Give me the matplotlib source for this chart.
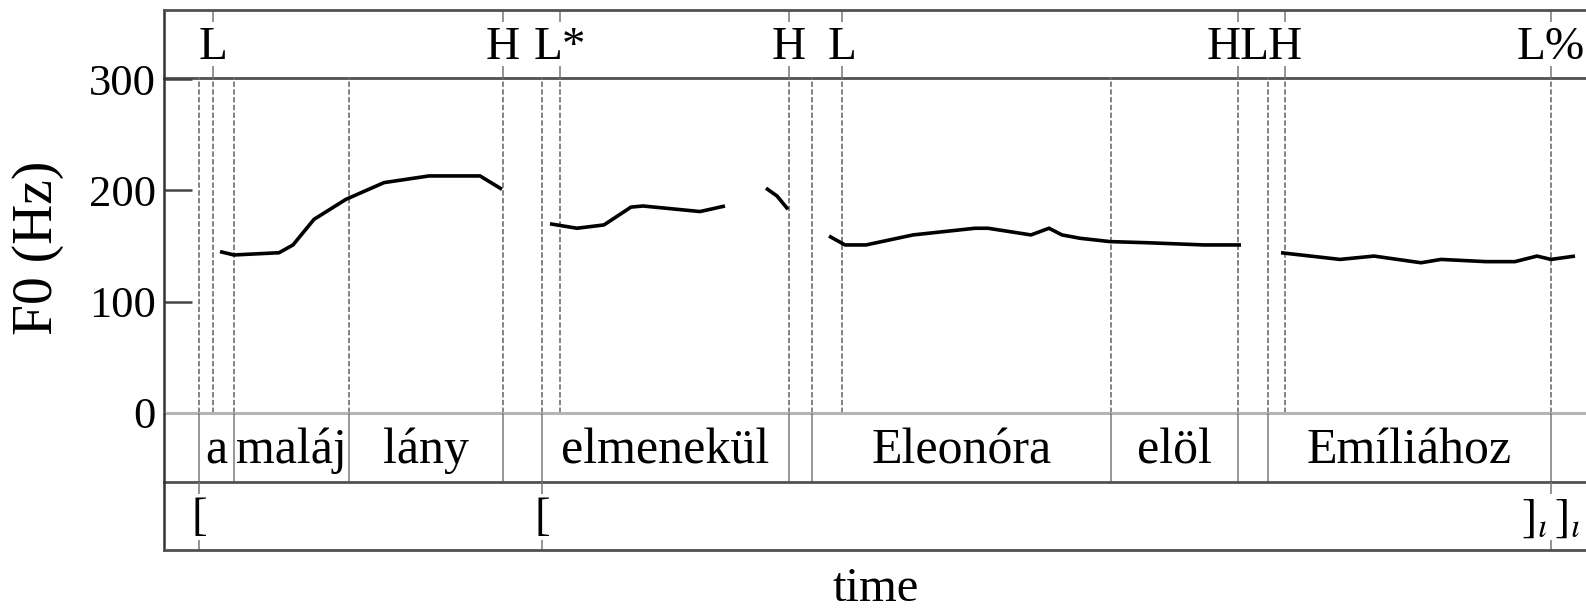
import matplotlib
matplotlib.use("Agg")
import matplotlib.pyplot as plt

plt.rcParams['font.family'] = ['Liberation Serif', 'DejaVu Serif']
plt.rcParams['mathtext.fontset'] = 'stix'

# pitch track (time in ms, F0 in Hz), broken into voiced stretches
seg1_t = [112, 140, 230, 258, 300, 364, 440, 530, 632, 676]
seg1_f = [145, 142, 144, 151, 174, 192, 207, 213, 213, 201]
seg2_t = [772, 826, 880, 934, 958, 1072, 1122]
seg2_f = [170, 166, 169, 185, 186, 181, 186]
seg3_t = [1204, 1226, 1248]
seg3_f = [202, 195, 183]
seg4_t = [1330, 1362, 1404, 1498, 1622, 1648, 1734, 1770, 1796, 1832, 1892, 1966, 2080, 2154]
seg4_f = [159, 151, 151, 160, 166, 166, 160, 166, 160, 157, 154, 153, 151, 151]
seg5_t = [2234, 2352, 2420, 2514, 2554, 2644, 2702, 2746, 2774, 2822]
seg5_f = [144, 138, 141, 135, 138, 136, 136, 141, 138, 141]
segments = [(seg1_t, seg1_f), (seg2_t, seg2_f), (seg3_t, seg3_f),
            (seg4_t, seg4_f), (seg5_t, seg5_f)]

# tone tier
tone_times = [98, 678, 792, 1250, 1356, 2148, 2242, 2774]
tone_labels = ["L", "H", "L*", "H", "L", "HL", "H", "L%"]

# word tier
word_bounds = [70, 140, 370, 678, 756, 1250, 1296, 1894, 2148, 2208, 2774]
words = ["a", "maláj", "lány", "", "elmenekül", "", "Eleonóra", "elöl", "", "Emíliához"]

# phrase tier
phrase_times = [70, 756, 2774]
phrase_labels = ["[", "[", r"$]_{\iota}\,]_{\iota}$"]

x_end = 2852
f0_ticks = [0, 100, 200, 300]

W, H = 1586, 610
fig = plt.figure(figsize=(W / 100, H / 100), dpi=100)

left = 164 / W
width = (1590 - 164) / W


def box(top, bottom):
    return [left, (H - bottom) / H, width, (bottom - top) / H]


ax_tone = fig.add_axes(box(10, 78))
ax_f0 = fig.add_axes(box(78, 413), sharex=ax_tone)
ax_word = fig.add_axes(box(413, 482), sharex=ax_tone)
ax_phr = fig.add_axes(box(482, 550), sharex=ax_tone)

frame_c = "#505050"
for ax in (ax_tone, ax_f0, ax_word, ax_phr):
    ax.set_xlim(0, x_end)
    ax.patch.set_visible(False)
    for s in ax.spines.values():
        s.set_visible(False)
    ax.spines['left'].set_visible(True)
    ax.spines['left'].set_color("#333333")
    ax.spines['left'].set_linewidth(1.8)
    ax.tick_params(axis='x', bottom=False, labelbottom=False)

for ax in (ax_tone, ax_word, ax_phr):
    ax.set_ylim(0, 1)
    ax.set_yticks([])
    ax.spines['bottom'].set_visible(True)
    ax.spines['bottom'].set_color(frame_c)
    ax.spines['bottom'].set_linewidth(2.0)
ax_tone.spines['top'].set_visible(True)
ax_tone.spines['top'].set_color(frame_c)
ax_tone.spines['top'].set_linewidth(2.0)

# F0 panel
ax_f0.set_ylim(0, 301)
ax_f0.spines['bottom'].set_visible(True)
ax_f0.spines['bottom'].set_color("#b5b5b5")
ax_f0.spines['bottom'].set_linewidth(2.2)
ax_f0.set_yticks(f0_ticks)
ax_f0.set_yticklabels([str(v) for v in f0_ticks])
ax_f0.tick_params(axis='y', direction='in', length=20, width=1.8, color="#444444",
                  labelsize=32, pad=6)

bounds_all = sorted(set(tone_times) | set(word_bounds))
for t in bounds_all:
    ax_f0.axvline(t, color="#7a7a7a", lw=1.3, linestyle=(0, (3, 1.3)))

for st, sf in segments:
    ax_f0.plot(st, sf, color="black", lw=2.6, solid_capstyle='butt')

# tone tier
for t, lab in zip(tone_times, tone_labels):
    ax_tone.vlines(t, 0, 0.17, color="#777777", lw=1.1)
    ax_tone.vlines(t, 0.83, 1, color="#777777", lw=1.1)
    ax_tone.text(t, 0.28, lab, ha='center', va='baseline', fontsize=34)

# word tier
for t in word_bounds:
    ax_word.vlines(t, 0, 1, color="#7a7a7a", lw=1.1)
for a, b, w in zip(word_bounds[:-1], word_bounds[1:], words):
    if w:
        ax_word.text((a + b) / 2, 0.27, w, ha='center', va='baseline', fontsize=36)

# phrase tier
for t, lab in zip(phrase_times, phrase_labels):
    ax_phr.vlines(t, 0, 0.15, color="#777777", lw=1.1)
    ax_phr.vlines(t, 0.82, 1, color="#777777", lw=1.1)
    ax_phr.text(t, 0.29, lab, ha='center', va='baseline', fontsize=34)

fig.text(38 / W, (H - 248) / H, "F0 (Hz)", rotation=90, ha='center', va='center',
         fontsize=40)
fig.text(876 / W, (H - 601) / H, "time", ha='center', va='baseline', fontsize=35)

fig.savefig("out.png", dpi=100)
